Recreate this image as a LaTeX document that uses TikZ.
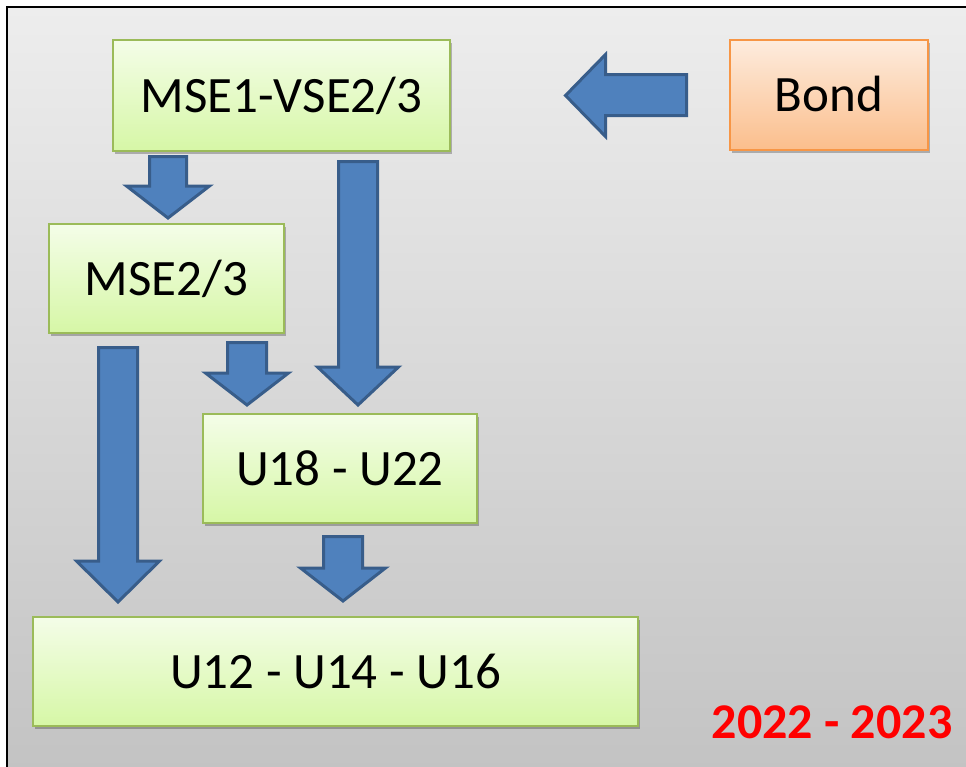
\documentclass[tikz,border=0pt]{standalone}
\usepackage{fontspec}
\setmainfont{Carlito}
\usetikzlibrary{shadows}
\definecolor{bgtop}{RGB}{237,237,237}
\definecolor{bgbot}{RGB}{194,194,194}
\definecolor{grtop}{RGB}{244,253,232}
\definecolor{grbot}{RGB}{214,247,166}
\definecolor{grline}{RGB}{155,187,89}
\definecolor{ortop}{RGB}{253,236,222}
\definecolor{orbot}{RGB}{251,190,140}
\definecolor{orline}{RGB}{247,150,70}
\definecolor{arfill}{RGB}{79,129,189}
\definecolor{arline}{RGB}{56,93,138}
\definecolor{yearred}{RGB}{255,0,0}
\tikzset{
  box/.style={draw=grline, line width=2.5pt, top color=grtop, bottom color=grbot,
    font=\fontsize{51}{60}\selectfont, text height=33pt, text depth=0pt,
    inner sep=0pt, drop shadow={shadow xshift=1.5pt, shadow yshift=-3pt, opacity=0.25, fill=black}},
  obox/.style={box, draw=orline, top color=ortop, bottom color=orbot},
  blk/.style={draw=arline, fill=arfill, line width=3pt, line join=miter},
}
\newcommand{\blkdown}[6]{%
  \draw[blk] (#1-#4,#2) -- (#1+#4,#2) -- (#1+#4,#6) -- (#1+#5,#6) -- (#1,#3)
    -- (#1-#5,#6) -- (#1-#4,#6) -- cycle;}
\begin{document}
\begin{tikzpicture}[x=1pt,y=-1pt]
\useasboundingbox (0,0) rectangle (966,766);
% background frame
\shade[top color=bgtop, bottom color=bgbot] (7,7) rectangle (990,790);
\draw[black, line width=2.5pt] (7,790) -- (7,7) -- (990,7);
% boxes
\node[box, minimum width=337pt, minimum height=111pt] (mse1) at (281.5,95.5) {MSE1-VSE2/3};
\node[obox, minimum width=198pt, minimum height=110pt] (bond) at (829,95) {Bond};
\node[box, minimum width=235pt, minimum height=109pt] (mse2) at (166.5,278.5) {MSE2/3};
\node[box, minimum width=274pt, minimum height=109pt] (u18) at (340,468.5) {U18 - U22};
\node[box, minimum width=605pt, minimum height=109pt] (u12) at (335.5,671.5) {U12 - U14 - U16};
\node[text=yearred, font=\fontsize{50}{58}\selectfont\bfseries, inner sep=0pt] (year) at (832,722) {2022 - 2023};
% block arrows
\draw[blk] (565.5,95.5) -- (605.5,54.5) -- (605.5,74.5) -- (686.5,74.5) -- (686.5,115.5)
  -- (605.5,115.5) -- (605.5,136.5) -- cycle;
\blkdown{168}{156.5}{218}{18.5}{41.5}{186}
\blkdown{358}{161.5}{405}{19.5}{40.5}{367}
\blkdown{247}{342.5}{405}{19.5}{41.5}{373}
\blkdown{118}{347.5}{602}{19.5}{41.5}{561}
\blkdown{343}{536.5}{601}{19.5}{42.5}{568}
\end{tikzpicture}
\end{document}
